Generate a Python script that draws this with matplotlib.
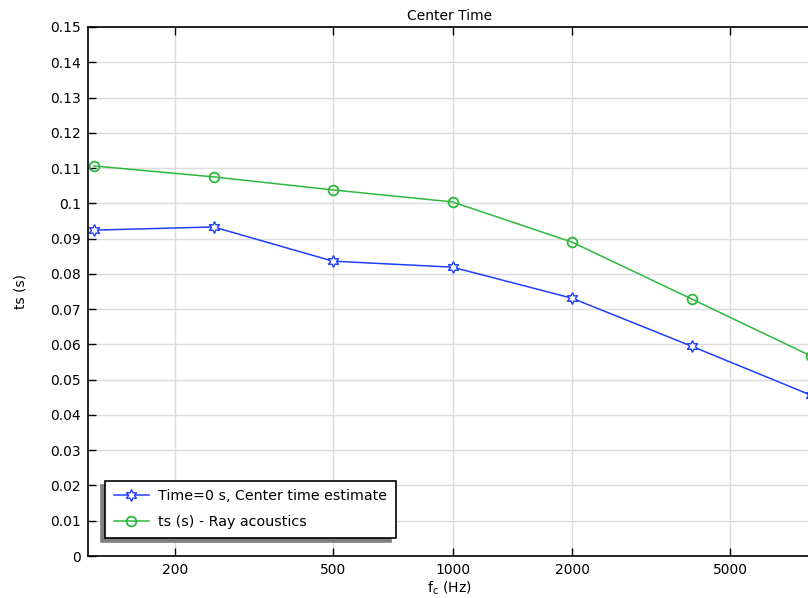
import numpy as np
import matplotlib
matplotlib.use("Agg")
from matplotlib import pyplot as plt

freq = [125, 250, 500, 1000, 2000, 4000, 8000]
ts_estimate = [0.0924, 0.0933, 0.0836, 0.0819, 0.0731, 0.0595, 0.0456]
ts_ray = [0.1106, 0.1075, 0.1038, 0.1004, 0.0890, 0.0729, 0.0567]
xticks = [200, 500, 1000, 2000, 5000]
yticks = np.round(np.arange(0, 0.151, 0.01), 2)
ytick_labels = ["0", "0.01", "0.02", "0.03", "0.04", "0.05", "0.06", "0.07", "0.08",
                "0.09", "0.1", "0.11", "0.12", "0.13", "0.14", "0.15"]

plt.rcParams['font.family'] = ['DejaVu Sans']
fig = plt.figure(figsize=(8.08, 5.98), dpi=100)
W, H = 808, 598
ax = fig.add_axes([88 / W, (H - 556) / H, (811 - 88) / W, (556 - 27) / H])

ax.plot(freq, ts_estimate, color="#1f3fff", lw=1.1, marker=(6, 1, 0), ms=8.5,
        mfc="white", mec="#1f3fff", mew=1.0, label="Time=0 s, Center time estimate", clip_on=False)
ax.plot(freq, ts_ray, color="#2db83d", lw=1.1, marker="o", ms=7,
        mfc="none", mec="#2db83d", mew=1.3, label="ts (s) - Ray acoustics", clip_on=False)

ax.set_xscale("log")
ax.set_xlim(120.7, 8000)
ax.set_ylim(0, 0.15)
ax.set_xticks(xticks)
ax.set_xticklabels([str(v) for v in xticks])
ax.xaxis.set_minor_locator(matplotlib.ticker.NullLocator())
ax.set_yticks(yticks)
ax.set_yticklabels(ytick_labels)
ax.tick_params(direction="in", length=6, width=1, labelsize=10, top=True, right=False, pad=5)
ax.grid(True, color="#dcdcdc", lw=1)
ax.set_axisbelow(True)
for s in ax.spines.values():
    s.set_linewidth(1.2)

ax.set_title("Center Time", fontsize=10, pad=5)
ax.set_xlabel("f$_\\mathregular{c}$ (Hz)", fontsize=10, labelpad=2)
ax.set_ylabel("ts (s)", fontsize=10, labelpad=16)

leg = ax.legend(loc="lower left", bbox_to_anchor=((105 - 88) / (811 - 88), (556 - 538) / (556 - 27)),
                fancybox=False, framealpha=1, edgecolor="black", fontsize=10.3,
                borderaxespad=0, handlelength=2.5, borderpad=0.6, labelspacing=0.85,
                handletextpad=0.6,
                shadow={"ox": -3, "oy": -3, "facecolor": "#808080",
                        "edgecolor": "#808080", "alpha": 1})
leg.get_frame().set_linewidth(1.2)

fig.savefig("out.png", dpi=100)
